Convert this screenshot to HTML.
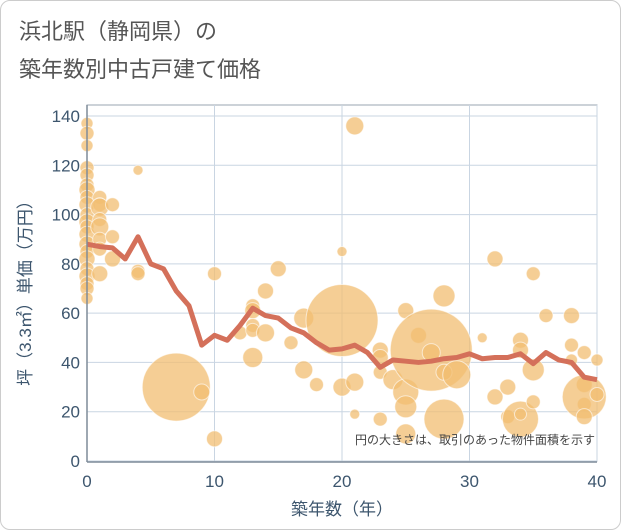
<!DOCTYPE html>
<html><head><meta charset="utf-8"><style>
body{margin:0;background:#fff;}
.wrap{position:relative;width:619px;height:528px;border:1px solid #ccc;border-radius:10px;background:#fff;overflow:hidden;}
text{font-family:"Liberation Sans","Noto Sans CJK JP",sans-serif;}
</style></head><body>
<div class="wrap">
<svg id="chart" width="621" height="530">
<text x="18" y="38" font-size="22" fill="#555">浜北駅（静岡県）の</text>
<text x="18" y="76" font-size="22" fill="#555">築年数別中古戸建て価格</text>
<g id="grid"></g><g id="bubbles"></g><g id="line"></g><g id="axes"></g>
<text x="594" y="443" font-size="12" fill="#444" text-anchor="end">円の大きさは、取引のあった物件面積を示す</text>
<text x="341" y="514" font-size="17" fill="#3d566e" text-anchor="middle">築年数（年）</text>
<text transform="translate(30,288) rotate(-90)" font-size="17" fill="#3d566e" text-anchor="middle">坪（3.3㎡）単価（万円）</text>
</svg>
</div>
<script>
const xTicks=[0,10,20,30,40];
const yTicks=[0,20,40,60,80,100,120,140];
const lineYears=[0,1,2,3,4,5,6,7,8,9,10,11,12,13,14,15,16,17,18,19,20,21,22,23,24,25,26,27,28,29,30,31,32,33,34,35,36,37,38,39,40];
const lineValues=[88,87,86.5,82,91,80,78,69,63,47,51,49,55,62,59,58,54,52,48,45,45.5,47,44,38,41,40.5,40,40.5,41.5,42,43.5,41.5,42,42,43.5,39.5,44,41,40,34,33];
const bubbleX=[0,0,0,0,0,0,0,0,0,0,0,0,0,0,0,0,0,0,0,0,0,1,1,1,1,1,1,1,1,2,2,2,4,4,4,7,9,10,10,12,13,13,13,13,13,14,14,15,16,17,17,18,20,20,20,21,21,21,23,23,23,23,24,25,25,25,25,26,27,27,28,28,28,29,31,32,32,33,33,34,34,34,34,35,35,35,36,38,38,38,39,39,39,39,39,40,40];
const bubbleY=[137,133,128,119,116,112,110,107,104,100,97,95,92,88,85,82,78,75,72,70,66,107,104,103,98,95,90,86,76,104,91,82,118,77,76,30,28,76,9,52,63,61,55,53,42,69,52,78,48,58,37,31,85,57,30,136,32,19,45,42,36,17,33,61,28,11,22,51,45,44,67,36,17,35,50,82,26,30,18,49,45,17,19,76,37,24,59,59,47,41,44,31,23,26,18,41,27];
const bubbleSize=[6,7,6,7,7,7,8,7,8,7,8,7,8,8,7,8,7,8,7,7,6,7,7,9,7,9,7,7,8,7,7,8,5,7,7,34,8,7,8,7,7,8,7,7,10,8,9,8,7,10,9,7,5,36,9,9,9,5,8,8,7,7,10,8,13,10,11,8,41,9,11,8,20,14,5,8,8,8,7,8,8,18,6,7,11,7,7,8,7,6,7,8,7,22,8,6,7];
const NS="http://www.w3.org/2000/svg";
const X0=86,X1=596,Y0=460,Y1=115;
function sx(v){return X0+(X1-X0)*v/40;}
function sy(v){return Y0-(Y0-Y1)*v/140;}
const grid=document.getElementById('grid'),axes=document.getElementById('axes'),bub=document.getElementById('bubbles'),ln=document.getElementById('line');
function mk(tag,attrs,parent){const e=document.createElementNS(NS,tag);for(const k in attrs)e.setAttribute(k,attrs[k]);parent.appendChild(e);return e;}
const frame=mk('rect',{x:X0,y:104,width:X1-X0,height:Y0-104,fill:'none',stroke:'#9aa5b1','stroke-width':1},grid);


xTicks.forEach(t=>{
 const g=mk('line',{x1:sx(t),x2:sx(t),y1:104,y2:Y0,stroke:'#c9d5e2','stroke-width':1},grid);
 
 
 const l=mk('text',{x:sx(t),y:486,'font-size':17,fill:'#3d566e','text-anchor':'middle'},axes);l.textContent=t;
 
 
});
yTicks.forEach(t=>{
 const g=mk('line',{x1:X0,x2:X1,y1:sy(t),y2:sy(t),stroke:'#c9d5e2','stroke-width':1},grid);
 
 
 const l=mk('text',{x:79,y:sy(t)+6,'font-size':17,fill:'#3d566e','text-anchor':'end'},axes);l.textContent=t;
 
 
});
const ax=mk('line',{x1:X0,x2:X1,y1:Y0+1,y2:Y0+1,stroke:'#7f8c99','stroke-width':1.5},axes);


const ay=mk('line',{x1:X0,x2:X0,y1:104,y2:Y0+1,stroke:'#7f8c99','stroke-width':1.5},axes);


bubbleX.forEach((x,i)=>{
 const c=mk('circle',{cx:sx(x),cy:sy(bubbleY[i]),r:bubbleSize[i],fill:'#f2bd72','fill-opacity':0.75,stroke:'#fff','stroke-opacity':0.6,'stroke-width':1},bub);
 
 
});
const p=mk('polyline',{points:lineYears.map((x,i)=>sx(x)+','+sy(lineValues[i])).join(' '),fill:'none',stroke:'#d4705a','stroke-width':5,'stroke-linejoin':'round'},ln);


</script>
</body></html>
